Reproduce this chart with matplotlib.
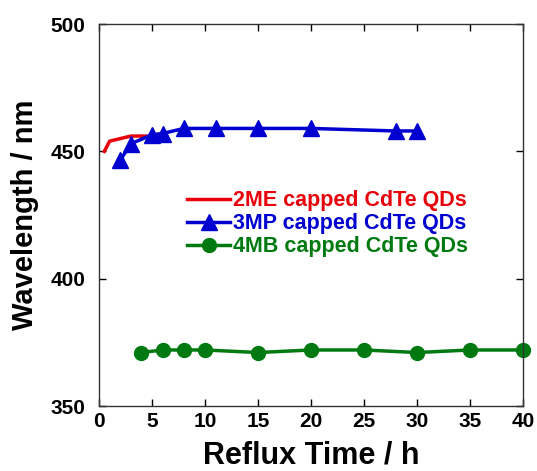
import matplotlib
matplotlib.use("Agg")
import matplotlib.pyplot as plt

plt.rcParams['font.family'] = ['Liberation Sans', 'DejaVu Sans']
plt.rcParams['font.weight'] = 'bold'

# 2ME capped
t_me = [0.5, 1, 3, 5, 6]
wl_me = [450, 454, 456, 456, 457]
# 3MP capped
t_mp = [2, 3, 5, 6, 8, 11, 15, 20, 28, 30]
wl_mp = [446.5, 453, 456.5, 457, 459, 459, 459, 459, 458, 458]
# 4MB capped
t_mb = [4, 6, 8, 10, 15, 20, 25, 30, 35, 40]
wl_mb = [371, 372, 372, 372, 371, 372, 372, 371, 372, 372]

labels = ['2ME capped CdTe QDs', '3MP capped CdTe QDs', '4MB capped CdTe QDs']
colors = ['#e8000b', '#0000d0', '#007a10']

fig = plt.figure(figsize=(5.37, 4.71), dpi=100)
ax = fig.add_axes([0.1844, 0.138, 0.7896, 0.811])

ax.plot(t_me, wl_me, color=colors[0], lw=2.5, label=labels[0])
ax.plot(t_mp, wl_mp, color=colors[1], lw=2.5, marker='^', ms=11, label=labels[1])
ax.plot(t_mb, wl_mb, color=colors[2], lw=2.5, marker='o', ms=10, label=labels[2], clip_on=False)

ax.set_xlim(0, 40)
ax.set_ylim(350, 500)
ax.set_xticks(range(0, 41, 5))
ax.set_yticks([350, 400, 450, 500])
ax.tick_params(direction='in', top=True, right=True, length=5, width=1, labelsize=15)
ax.tick_params(axis='x', pad=4)
ax.tick_params(axis='y', pad=10)
for s in ax.spines.values():
    s.set_linewidth(1)
    s.set_color('#333333')

ax.set_xlabel('Reflux Time / h', fontsize=22, fontweight='bold', labelpad=7)
ax.set_ylabel('Wavelength / nm', fontsize=21, fontweight='bold', labelpad=8)

leg = ax.legend(loc='upper left', bbox_to_anchor=(0.2075, 0.565), frameon=False,
                fontsize=15.5, handlelength=2.0, handletextpad=0.15, labelspacing=0.1,
                borderpad=0, borderaxespad=0)
for txt, c in zip(leg.get_texts(), colors):
    txt.set_color(c)
    txt.set_fontweight('bold')

fig.savefig('out.png', dpi=100)
